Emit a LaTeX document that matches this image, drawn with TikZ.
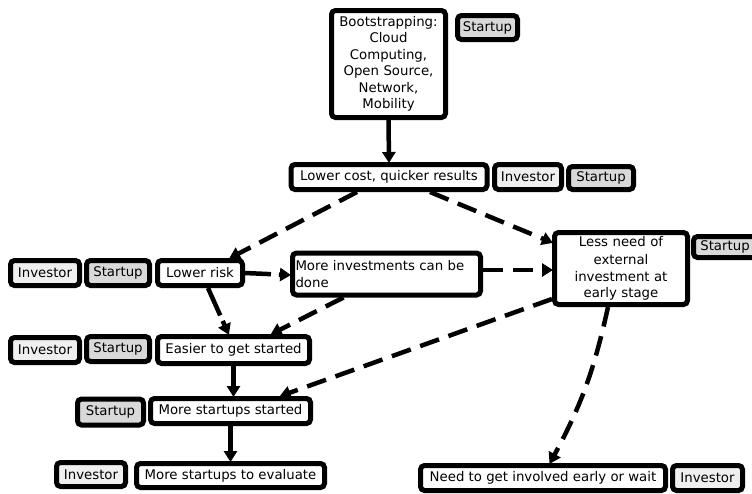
\documentclass[tikz,border=0pt]{standalone}
\usepackage{fontspec}
\setmainfont{DejaVu Sans}
\usetikzlibrary{arrows.meta}
\definecolor{invfill}{HTML}{EEEFEE}
\definecolor{stfill}{HTML}{D9D9D9}
\begin{document}
\begin{tikzpicture}[x=1pt,y=-1pt,
  every node/.style={font=\fontsize{13.3}{16.5}\selectfont},
  box/.style={draw=black,line width=5pt,rounded corners=4pt,fill=white,inner sep=2pt,align=center},
  invtag/.style={box,fill=invfill},
  sttag/.style={box,fill=stfill},
  arr/.style={line width=4.5pt,-{Triangle[length=11pt,width=13pt]},shorten >=-1pt},
  dsh/.style={arr,dash pattern=on 20pt off 10pt}
]
\useasboundingbox (0,0) rectangle (752,493);
% main nodes
\node[box,minimum width=114pt,minimum height=107pt,text width=110pt] (boot) at (388.5,64) {Bootstrapping:\\Cloud\\Computing,\\Open Source,\\Network,\\Mobility};
\node[box,minimum width=196pt,minimum height=25pt] (cost) at (389,177) {Lower cost, quicker results};
\node[box,minimum width=133pt,minimum height=72pt,text width=128pt] (less) at (621,268.5) {\vspace*{2pt}Less need of\\external\\investment at\\early stage};
\node[box,minimum width=85pt,minimum height=25pt] (risk) at (200,273) {Lower risk};
\node[box,minimum width=188pt,minimum height=42pt,text width=182pt,align=left] (inv) at (386.5,274) {More investments can be\\done};
\node[box,minimum width=152pt,minimum height=27pt] (easy) at (233.5,350) {Easier to get started};
\node[box,minimum width=160pt,minimum height=25pt] (started) at (230.5,411) {More startups started};
\node[box,minimum width=188pt,minimum height=24pt] (eval) at (230.5,475.5) {More startups to evaluate};
\node[box,minimum width=245pt,minimum height=25pt] (need) at (543,478) {Need to get involved early or wait};
% tags
\node[sttag,minimum width=60pt,minimum height=24pt] (bootS) at (487.5,27.5) {Startup};
\node[invtag,minimum width=67pt,minimum height=25pt] (costI) at (528,177) {Investor};
\node[sttag,minimum width=65pt,minimum height=23pt] (costS) at (601,178) {Startup};
\node[sttag,minimum width=63pt,minimum height=21pt] (lessS) at (725,247) {Startup};
\node[invtag,minimum width=69pt,minimum height=25pt] (riskI) at (45,273) {Investor};
\node[sttag,minimum width=63pt,minimum height=25pt] (riskS) at (118,273) {Startup};
\node[invtag,minimum width=69pt,minimum height=25pt] (easyI) at (45,350) {Investor};
\node[sttag,minimum width=63pt,minimum height=25pt] (easyS) at (118,349) {Startup};
\node[sttag,minimum width=66pt,minimum height=26pt] (startedS) at (110.5,412) {Startup};
\node[invtag,minimum width=69pt,minimum height=24pt] (evalI) at (91,474.5) {Investor};
\node[invtag,minimum width=70pt,minimum height=25pt] (needI) at (707.5,478) {Investor};
% connectors
\draw[arr] (boot.south) -- (cost.north);
\draw[dsh] ([xshift=-32pt]cost.south) -- ([xshift=30pt]risk.north);
\draw[dsh] ([xshift=41pt]cost.south) -- ([yshift=26pt]less.west);
\draw[dsh,dash pattern=on 26pt off 8pt] (risk.east) -- ([yshift=-1pt]inv.west);
\draw[dsh] ([yshift=4pt]inv.east) -- ([yshift=-1.5pt]less.west);
\draw[dsh,dash pattern=on 30pt off 6pt] ([xshift=8pt]risk.south) -- ([xshift=-5pt]easy.north);
\draw[dsh] ([xshift=-43pt]inv.south) -- ([xshift=38pt]easy.north);
\draw[dsh] ([yshift=8pt]less.south west) -- ([xshift=50pt]started.north);
\draw[dsh] ([xshift=-13pt]less.south) to[bend left=8] ([xshift=7pt]need.north);
\draw[arr] (easy.south) -- (easy.south |- started.north);
\draw[arr] (started.south) -- (started.south |- eval.north);
\end{tikzpicture}
\end{document}
